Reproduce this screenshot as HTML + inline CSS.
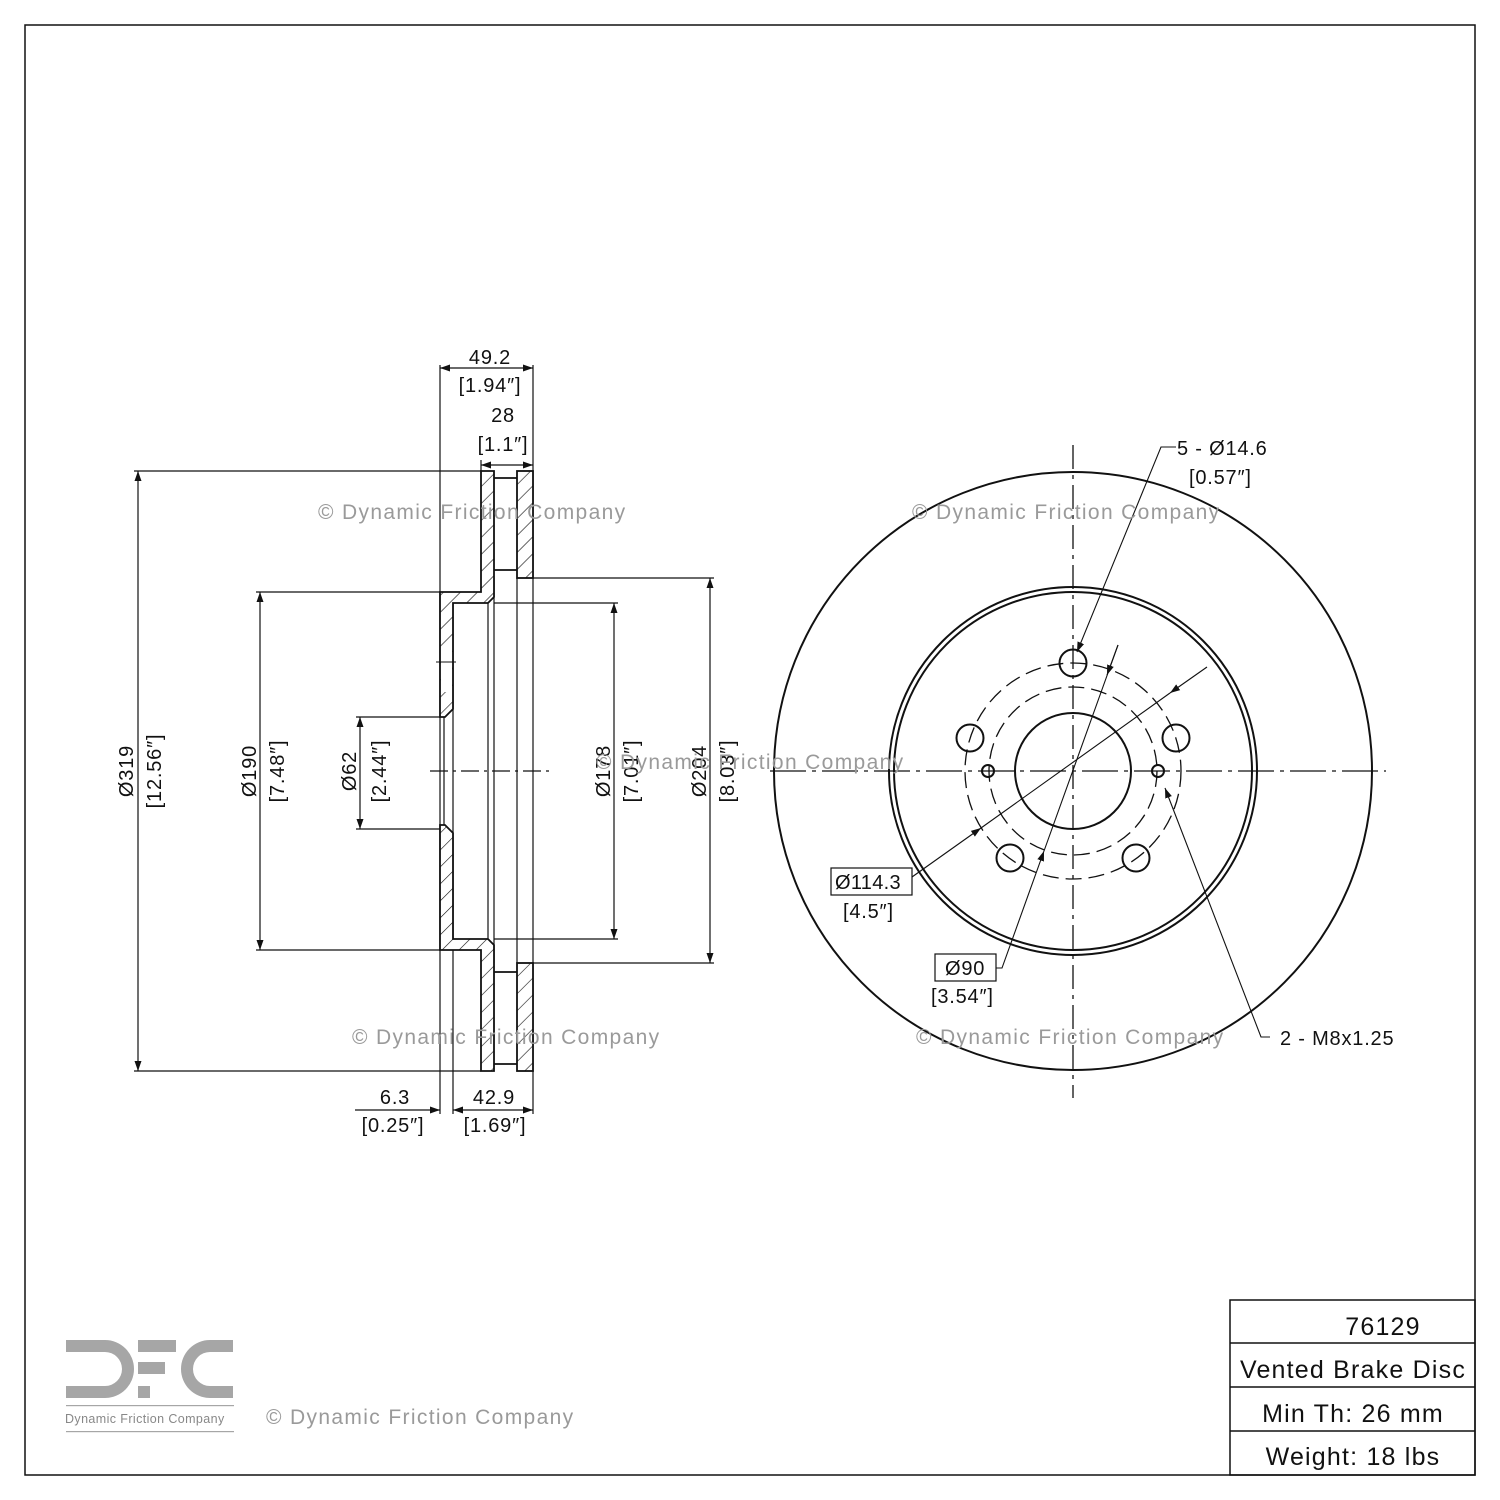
<!DOCTYPE html>
<html><head><meta charset="utf-8"><style>
html,body{margin:0;padding:0;background:#fff}
svg{display:block}
text{font-family:"Liberation Sans",sans-serif;fill:#111}
.wm{fill:#9a9a9a;font-size:21px;letter-spacing:1.35px}
.d{letter-spacing:0.8px}
</style></head><body>
<svg width="1500" height="1500" viewBox="0 0 1500 1500" xmlns="http://www.w3.org/2000/svg">
<defs>
<pattern id="h" patternUnits="userSpaceOnUse" width="12" height="12" patternTransform="rotate(45)">
<rect width="12" height="12" fill="#fff"/><line x1="0" y1="0" x2="0" y2="12" stroke="#111" stroke-width="1.2"/>
</pattern>
<marker id="a" viewBox="0 0 10 10" refX="10" refY="5" markerWidth="10" markerHeight="10" orient="auto-start-reverse" markerUnits="userSpaceOnUse"><path d="M0,1.5 L10,5 L0,8.5 Z" fill="#111"/></marker>
</defs>
<rect x="25" y="25" width="1450" height="1450" fill="none" stroke="#111" stroke-width="1.5"/>

<g stroke="#111" fill="none" stroke-width="1.2">
<line x1="440" y1="365" x2="440" y2="1114"/>
<line x1="533" y1="365" x2="533" y2="1114"/>
<line x1="481" y1="460" x2="481" y2="471"/>
<line x1="453" y1="603" x2="453" y2="1114"/>
<line x1="488" y1="603" x2="488" y2="939"/>
<line x1="494" y1="578" x2="494" y2="963"/>
<line x1="517" y1="578" x2="517" y2="963"/>
<line x1="444" y1="717" x2="444" y2="829"/>
<line x1="134" y1="471" x2="481" y2="471"/>
<line x1="134" y1="1071" x2="481" y2="1071"/>
<line x1="256" y1="592" x2="440" y2="592"/>
<line x1="256" y1="950" x2="440" y2="950"/>
<line x1="356" y1="717" x2="440" y2="717"/>
<line x1="356" y1="829" x2="440" y2="829"/>
<line x1="494" y1="603" x2="618" y2="603"/>
<line x1="494" y1="939" x2="618" y2="939"/>
<line x1="533" y1="578" x2="714" y2="578"/>
<line x1="533" y1="963" x2="714" y2="963"/>
<line x1="138" y1="471" x2="138" y2="1071" marker-start="url(#a)" marker-end="url(#a)"/>
<line x1="260" y1="592" x2="260" y2="950" marker-start="url(#a)" marker-end="url(#a)"/>
<line x1="360" y1="717" x2="360" y2="829" marker-start="url(#a)" marker-end="url(#a)"/>
<line x1="614" y1="603" x2="614" y2="939" marker-start="url(#a)" marker-end="url(#a)"/>
<line x1="710" y1="578" x2="710" y2="963" marker-start="url(#a)" marker-end="url(#a)"/>
<line x1="440" y1="368" x2="533" y2="368" marker-start="url(#a)" marker-end="url(#a)"/>
<line x1="481" y1="465" x2="533" y2="465" marker-start="url(#a)" marker-end="url(#a)"/>
<line x1="355" y1="1110" x2="440" y2="1110" marker-end="url(#a)"/>
<line x1="453" y1="1110" x2="533" y2="1110" marker-start="url(#a)" marker-end="url(#a)"/>
</g>

<g stroke="#111" stroke-width="1.8" fill="url(#h)">
<path d="M440,592 L481,592 L481,471 L494,471 L494,597 L488,603 L453,603 L453,709 L445,717 L440,717 Z"/>
<path d="M440,950 L481,950 L481,1071 L494,1071 L494,945 L488,939 L453,939 L453,833 L445,825 L440,825 Z"/>
<rect x="517" y="471" width="16" height="107"/>
<rect x="517" y="963" width="16" height="108"/>
</g>
<g stroke="#111" stroke-width="1.8">
<line x1="494" y1="478" x2="517" y2="478"/><line x1="494" y1="570" x2="517" y2="570"/>
<line x1="494" y1="1064" x2="517" y2="1064"/><line x1="494" y1="972" x2="517" y2="972"/>
</g>
<rect x="441" y="650" width="11" height="42" fill="#fff"/>
<line x1="436" y1="662" x2="456" y2="662" stroke="#111"/>
<line x1="430" y1="771" x2="552" y2="771" stroke="#111" stroke-width="1.2" stroke-dasharray="18,5,3,5"/>

<g font-size="20" text-anchor="middle" class="d">
<text x="490" y="364">49.2</text><text x="490" y="392">[1.94″]</text>
<text x="503" y="422">28</text><text x="503" y="451">[1.1″]</text>
<text x="395" y="1104">6.3</text><text x="393" y="1132">[0.25″]</text>
<text x="494" y="1104">42.9</text><text x="495" y="1132">[1.69″]</text>
<text transform="translate(133,771) rotate(-90)">Ø319</text>
<text transform="translate(161,771) rotate(-90)">[12.56″]</text>
<text transform="translate(256,771) rotate(-90)">Ø190</text>
<text transform="translate(284,771) rotate(-90)">[7.48″]</text>
<text transform="translate(356,771) rotate(-90)">Ø62</text>
<text transform="translate(386,771) rotate(-90)">[2.44″]</text>
<text transform="translate(610,771) rotate(-90)">Ø178</text>
<text transform="translate(638,771) rotate(-90)">[7.01″]</text>
<text transform="translate(706,771) rotate(-90)">Ø204</text>
<text transform="translate(734,771) rotate(-90)">[8.03″]</text>
</g>

<g stroke="#111" fill="none">
<circle cx="1073" cy="771" r="299" stroke-width="2"/>
<circle cx="1073" cy="771" r="184" stroke-width="2"/>
<circle cx="1073" cy="771" r="179" stroke-width="2"/>
<circle cx="1073" cy="771" r="58" stroke-width="2"/>
<circle cx="1073" cy="771" r="108" stroke-width="1.3" stroke-dasharray="16,7"/>
<circle cx="1073" cy="771" r="84" stroke-width="1.3" stroke-dasharray="16,7"/>
<circle cx="1073" cy="663" r="13.5" stroke-width="2"/>
<circle cx="970" cy="738" r="13.5" stroke-width="2"/>
<circle cx="1176" cy="738" r="13.5" stroke-width="2"/>
<circle cx="1010" cy="858" r="13.5" stroke-width="2"/>
<circle cx="1136" cy="858" r="13.5" stroke-width="2"/>
<circle cx="988" cy="771" r="6" stroke-width="2"/>
<circle cx="1158" cy="771" r="6" stroke-width="2"/>
<line x1="770" y1="771" x2="1386" y2="771" stroke-width="1.3" stroke-dasharray="36,6,4,6"/>
<line x1="1073" y1="445" x2="1073" y2="1098" stroke-width="1.3" stroke-dasharray="24,6,4,6"/>
<g stroke-width="1.1">
<polyline points="1176,447 1161,447 1077,652" marker-end="url(#a)"/>
<line x1="912" y1="877" x2="981" y2="828" marker-end="url(#a)"/>
<line x1="1207" y1="667" x2="1170" y2="693" marker-end="url(#a)"/>
<line x1="981" y1="828" x2="1170" y2="693"/>
<polyline points="996,968 1002,968 1044,851" marker-end="url(#a)"/>
<line x1="1044" y1="851" x2="1118" y2="645"/>
<line x1="1118" y1="645" x2="1107" y2="675" marker-end="url(#a)"/>
<polyline points="1270,1037 1261,1037 1165,788" marker-end="url(#a)"/>
</g>
<rect x="831" y="868" width="81" height="27" stroke-width="1.2"/>
<rect x="935" y="954" width="61" height="27" stroke-width="1.2"/>
</g>
<g font-size="20" class="d">
<text x="1177" y="455">5 - Ø14.6</text>
<text x="1189" y="484">[0.57″]</text>
<text x="835" y="889" style="letter-spacing:0.3px">Ø114.3</text>
<text x="843" y="918">[4.5″]</text>
<text x="945" y="975">Ø90</text>
<text x="931" y="1003">[3.54″]</text>
<text x="1280" y="1045">2 - M8x1.25</text>
</g>

<text class="wm" x="318" y="519">© Dynamic Friction Company</text>
<text class="wm" x="912" y="519">© Dynamic Friction Company</text>
<text class="wm" x="596" y="769">© Dynamic Friction Company</text>
<text class="wm" x="352" y="1044">© Dynamic Friction Company</text>
<text class="wm" x="916" y="1044">© Dynamic Friction Company</text>
<text class="wm" x="266" y="1424">© Dynamic Friction Company</text>

<g fill="#a6a6a6">
<path d="M66,1340 H105 A28,28 0 0 1 105,1398 H66 V1386 H105 A16,16 0 0 0 105,1352 H66 Z"/>
<rect x="138" y="1340" width="38" height="12"/>
<rect x="138" y="1362" width="27" height="12"/>
<rect x="138" y="1386" width="12" height="12"/>
<path d="M233,1340 H210 A29,29 0 0 0 210,1398 H233 V1386 H210 A17,17 0 0 1 210,1352 H233 Z"/>
<rect x="66" y="1405" width="168" height="1.2"/>
<rect x="66" y="1431" width="168" height="1.2"/>
</g>
<text x="65" y="1423" font-size="12.5" style="fill:#888;letter-spacing:0.4px">Dynamic Friction Company</text>

<g stroke="#111" stroke-width="1.5" fill="none">
<rect x="1230" y="1300" width="245" height="175"/>
<line x1="1230" y1="1343" x2="1475" y2="1343"/>
<line x1="1230" y1="1387" x2="1475" y2="1387"/>
<line x1="1230" y1="1431" x2="1475" y2="1431"/>
</g>
<g font-size="25" text-anchor="middle" style="letter-spacing:1.2px">
<text x="1383" y="1335">76129</text>
<text x="1353" y="1378">Vented Brake Disc</text>
<text x="1353" y="1422">Min Th: 26 mm</text>
<text x="1353" y="1465">Weight: 18 lbs</text>
</g>
</svg>
</body></html>
